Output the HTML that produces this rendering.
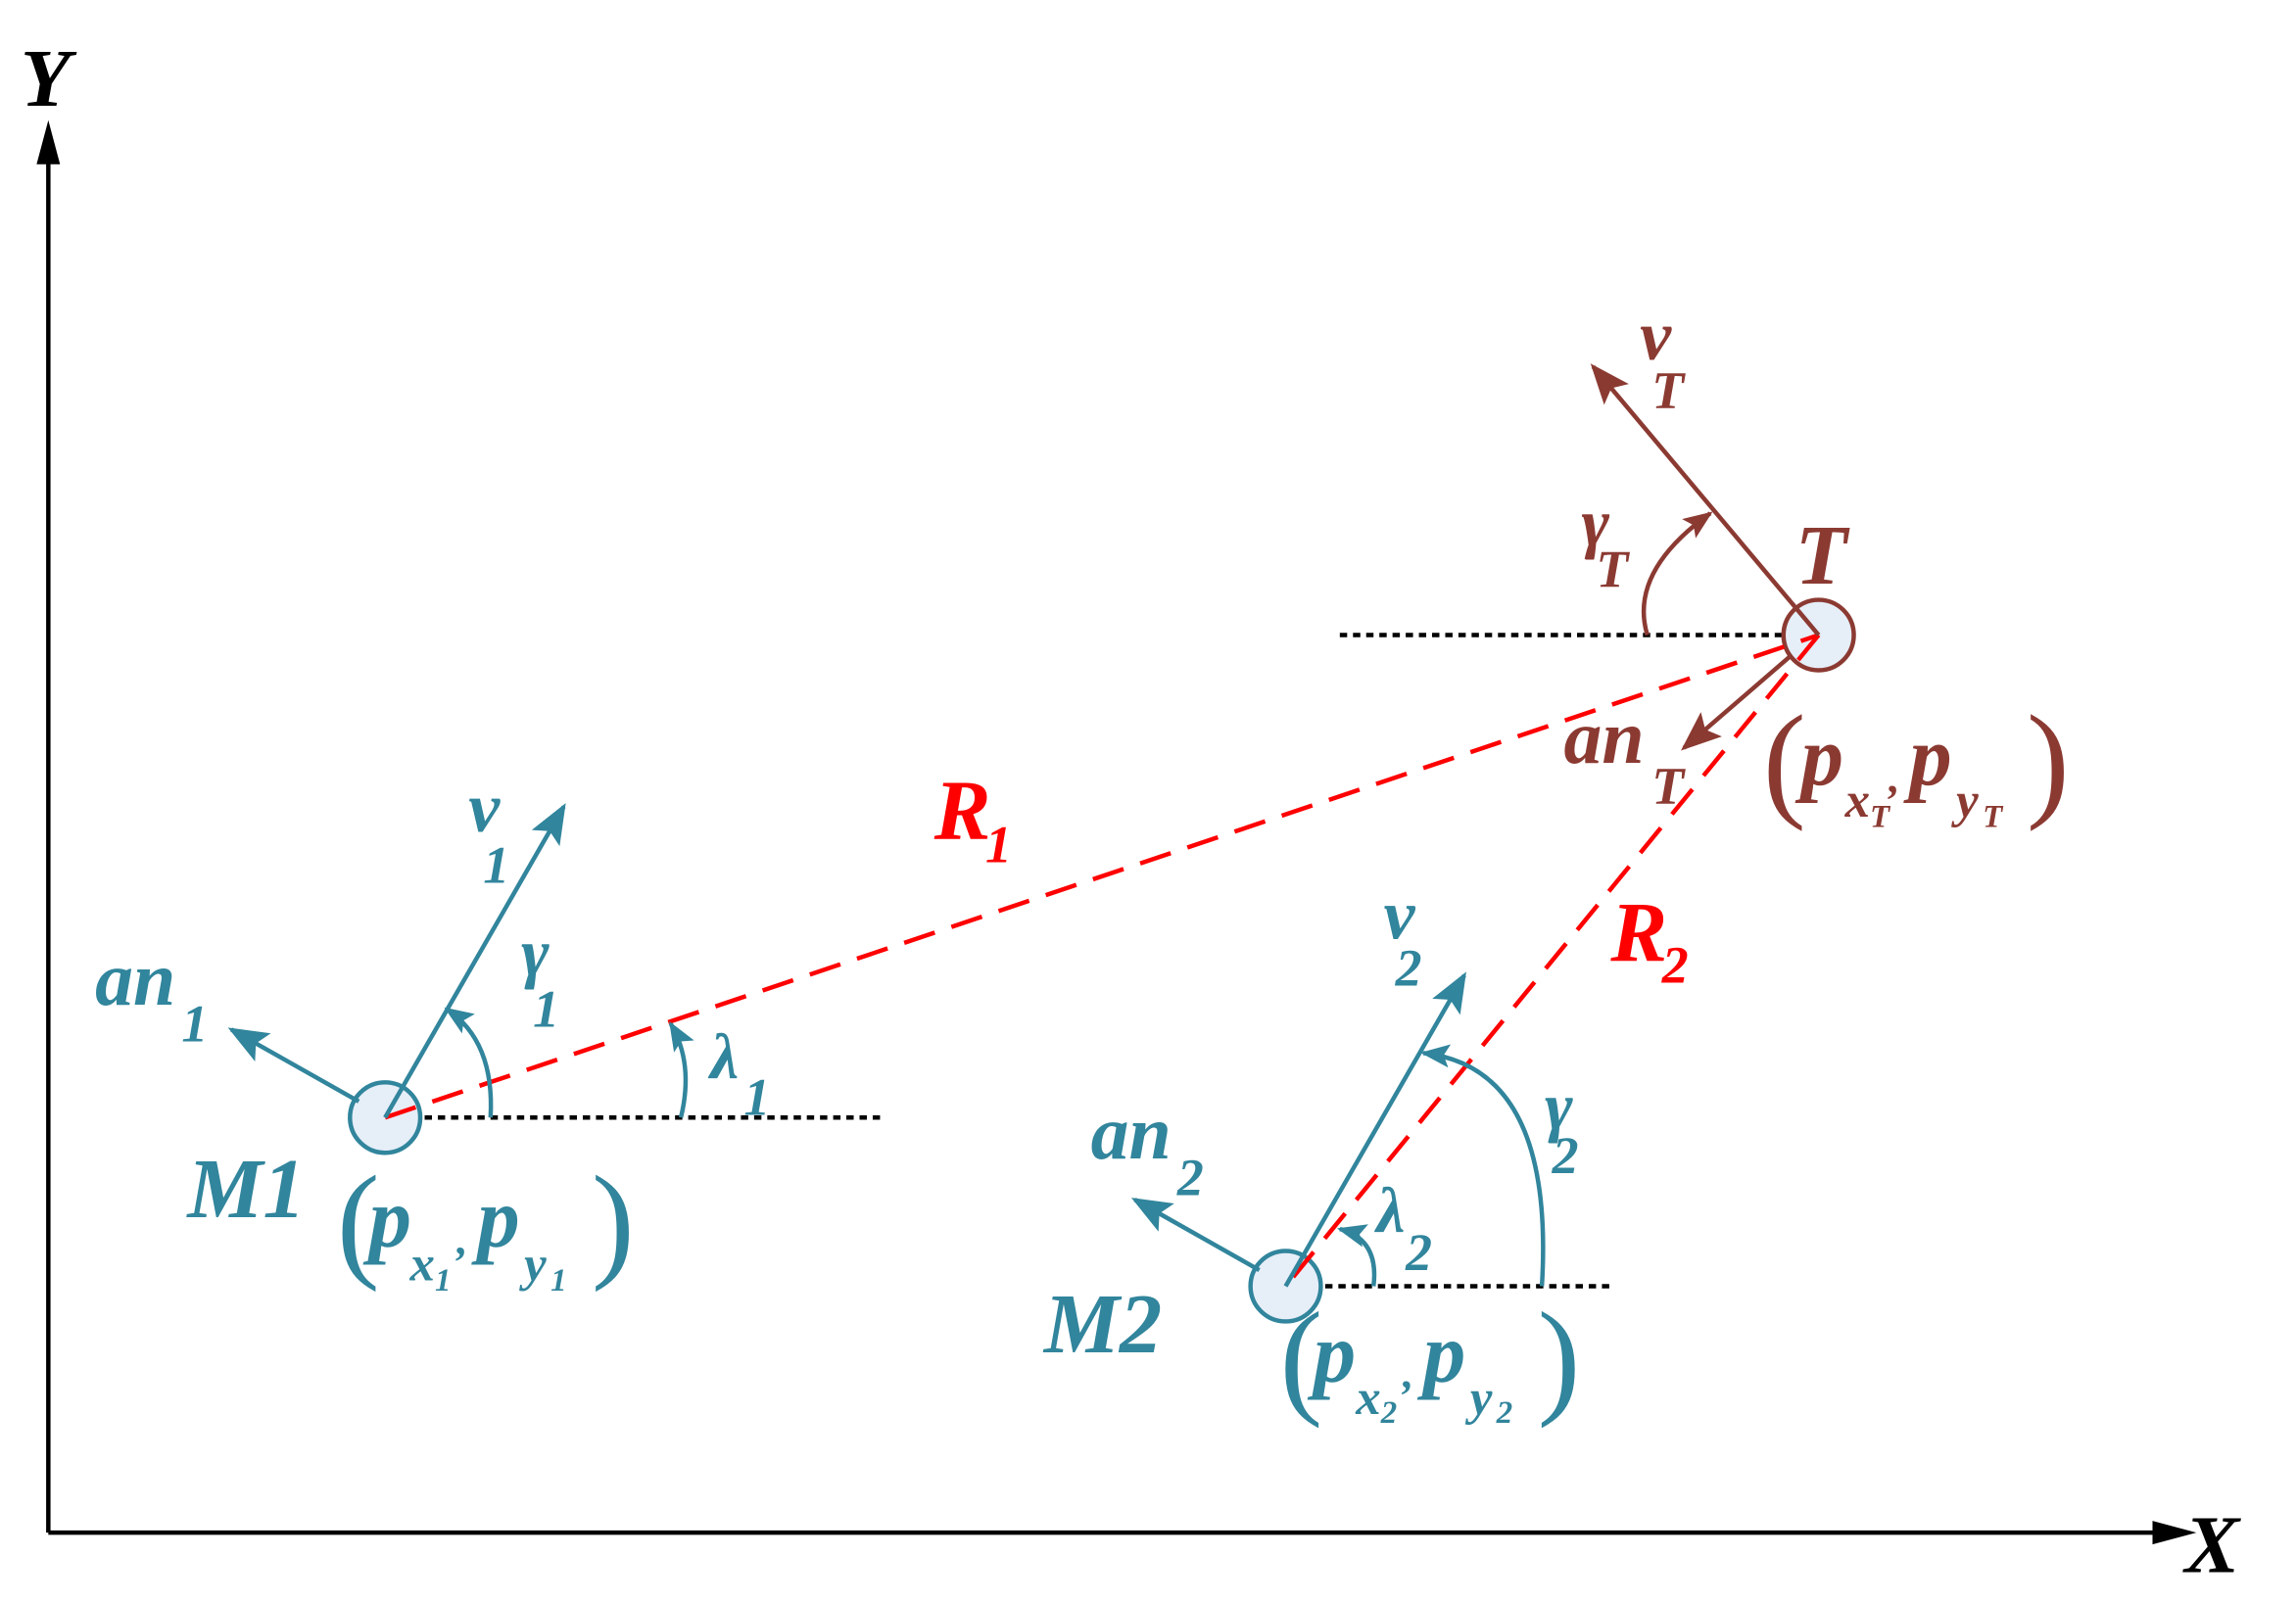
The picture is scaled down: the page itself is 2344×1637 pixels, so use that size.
<!DOCTYPE html>
<html><head><meta charset="utf-8"><style>
html,body{margin:0;padding:0;background:#fff;}
svg{display:block;}
text{font-family:"Liberation Serif","Times New Roman",serif;font-weight:bold;font-style:italic;}
text.p{font-weight:normal;font-style:normal;}
</style></head><body>
<svg width="2344" height="1637" viewBox="0 0 1568 1093" preserveAspectRatio="none" xmlns="http://www.w3.org/2000/svg">
<defs>
<marker id="at" viewBox="0 0 10 8" markerWidth="30" markerHeight="22" refX="9" refY="4" orient="auto" markerUnits="userSpaceOnUse"><path d="M0,0 L10,4 L0,8 L2,4z" fill="#31859C"/></marker>
<marker id="ats" viewBox="0 0 10 8" markerWidth="20" markerHeight="16" refX="9" refY="4" orient="auto" markerUnits="userSpaceOnUse"><path d="M0,0 L10,4 L0,8 L2,4z" fill="#31859C"/></marker>
<marker id="ab" viewBox="0 0 10 8" markerWidth="30" markerHeight="22" refX="9" refY="4" orient="auto" markerUnits="userSpaceOnUse"><path d="M0,0 L10,4 L0,8 L2,4z" fill="#8B3A32"/></marker>
<marker id="abs" viewBox="0 0 10 8" markerWidth="20" markerHeight="16" refX="9" refY="4" orient="auto" markerUnits="userSpaceOnUse"><path d="M0,0 L10,4 L0,8 L2,4z" fill="#8B3A32"/></marker>
</defs>
<line x1="33" y1="1045" x2="33" y2="100" stroke="#000" stroke-width="3"/>
<path d="M33,82 L25,112 L41,112z" fill="#000"/>
<line x1="33" y1="1045" x2="1475" y2="1045" stroke="#000" stroke-width="3"/>
<path d="M1500,1045 L1470,1037 L1470,1053z" fill="#000"/>
<text x="14" y="72" font-size="56" fill="#000">Y</text>
<text x="1492" y="1072" font-size="56" fill="#000">X</text>
<g stroke="#000" stroke-width="3" stroke-dasharray="5,4">
<line x1="263" y1="762" x2="603" y2="762"/>
<line x1="915" y1="433" x2="1242" y2="433"/>
<line x1="878" y1="877" x2="1103" y2="877"/>
</g>
<circle cx="263" cy="762" r="24" fill="#E6EEF8" stroke="#31859C" stroke-width="3"/>
<circle cx="878" cy="877" r="24" fill="#E6EEF8" stroke="#31859C" stroke-width="3"/>
<circle cx="1242" cy="433" r="24" fill="#E6EEF8" stroke="#8B3A32" stroke-width="3"/>
<g stroke="#FF0000" stroke-width="3" stroke-dasharray="22,12" fill="none">
<line x1="263" y1="762" x2="1242" y2="433"/>
<line x1="1242" y1="433" x2="878" y2="877"/>
</g>
<g stroke="#31859C" stroke-width="3" fill="none">
<line x1="263" y1="762" x2="385" y2="550" marker-end="url(#at)"/>
<line x1="245" y1="751" x2="158" y2="702" marker-end="url(#at)"/>
<path d="M335,762 Q338,710 305,688" marker-end="url(#ats)"/>
<path d="M465,762 Q474,725 458,698" marker-end="url(#ats)"/>
<line x1="878" y1="877" x2="1000" y2="665" marker-end="url(#at)"/>
<line x1="860" y1="866" x2="775" y2="818" marker-end="url(#at)"/>
<path d="M1053,877 Q1062,728 972,718" marker-end="url(#ats)"/>
<path d="M938,877 Q942,845 915,838" marker-end="url(#ats)"/>
</g>
<g stroke="#8B3A32" stroke-width="3" fill="none">
<line x1="1242" y1="433" x2="1088" y2="250" marker-end="url(#ab)"/>
<line x1="1222" y1="448" x2="1150" y2="510" marker-end="url(#ab)"/>
<path d="M1125,433 Q1112,390 1168,350" marker-end="url(#abs)"/>
</g>
<g fill="#31859C">
<text x="320" y="567" font-size="48">v</text><text x="330" y="602" font-size="36">1</text>
<text x="356" y="665" font-size="46">γ</text><text x="364" y="700" font-size="36">1</text>
<text x="65" y="685" font-size="52">an</text><text x="124" y="710" font-size="36">1</text>
<text x="485" y="735" font-size="44">λ</text><text x="508" y="760" font-size="36">1</text>
<text x="128" y="830" font-size="58">M1</text>
<text class="p" x="230" y="862" font-size="88">(</text>
<text x="252" y="850" font-size="58">p</text><text x="280" y="873" font-size="34">x</text><text x="297" y="880" font-size="22">1</text><text x="312" y="855" font-size="30">,</text>
<text x="326" y="850" font-size="58">p</text><text x="358" y="873" font-size="34">y</text><text x="376" y="880" font-size="22">1</text>
<text class="p" x="404" y="862" font-size="88">)</text>
<text x="945" y="640" font-size="48">v</text><text x="953" y="672" font-size="36">2</text>
<text x="1055" y="770" font-size="46">γ</text><text x="1060" y="800" font-size="36">2</text>
<text x="745" y="790" font-size="52">an</text><text x="804" y="815" font-size="36">2</text>
<text x="940" y="840" font-size="44">λ</text><text x="960" y="866" font-size="36">2</text>
<text x="713" y="922" font-size="58">M2</text>
<text class="p" x="874" y="955" font-size="88">(</text>
<text x="897" y="942" font-size="58">p</text><text x="926" y="964" font-size="34">x</text><text x="943" y="970" font-size="22">2</text><text x="958" y="946" font-size="30">,</text>
<text x="972" y="942" font-size="58">p</text><text x="1004" y="964" font-size="34">y</text><text x="1022" y="970" font-size="22">2</text>
<text class="p" x="1050" y="955" font-size="88">)</text>
</g>
<g fill="#8B3A32">
<text x="1120" y="245" font-size="48">v</text><text x="1128" y="278" font-size="36">T</text>
<text x="1080" y="372" font-size="46">γ</text><text x="1090" y="400" font-size="36">T</text>
<text x="1226" y="398" font-size="58">T</text>
<text x="1068" y="520" font-size="52">an</text><text x="1128" y="548" font-size="36">T</text>
<text class="p" x="1204" y="548" font-size="88">(</text>
<text x="1230" y="535" font-size="58">p</text><text x="1260" y="557" font-size="34">x</text><text x="1277" y="564" font-size="22">T</text><text x="1290" y="540" font-size="30">,</text>
<text x="1304" y="535" font-size="58">p</text><text x="1336" y="557" font-size="34">y</text><text x="1354" y="564" font-size="22">T</text>
<text class="p" x="1384" y="548" font-size="88">)</text>
</g>
<g fill="#FF0000">
<text x="638" y="572" font-size="58">R</text><text x="673" y="588" font-size="36">1</text>
<text x="1100" y="655" font-size="58">R</text><text x="1135" y="670" font-size="36">2</text>
</g>
</svg>
</body></html>
